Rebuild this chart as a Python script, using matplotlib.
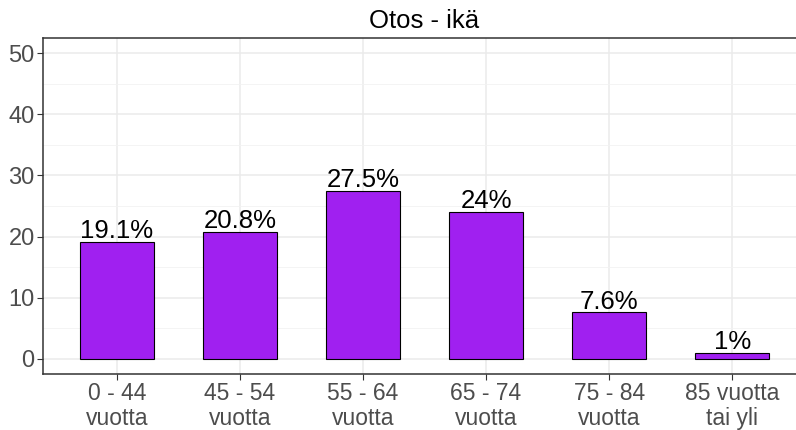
import numpy as np
import matplotlib.pyplot as plt
from matplotlib.ticker import MultipleLocator

plt.rcParams['font.family'] = ['Liberation Sans', 'DejaVu Sans']

categories = ['0 - 44\nvuotta', '45 - 54\nvuotta', '55 - 64\nvuotta',
              '65 - 74\nvuotta', '75 - 84\nvuotta', '85 vuotta\ntai yli']
values = [19.1, 20.8, 27.5, 24.0, 7.6, 1.0]
labels = ['19.1%', '20.8%', '27.5%', '24%', '7.6%', '1%']

fig = plt.figure(figsize=(7.96, 4.30), dpi=100)
ax = fig.add_axes([43/796, 56/430, 763/796, 336/430])

x = np.arange(1, len(values) + 1)
ax.bar(x, values, width=0.6, color='#A020F0', edgecolor='black', linewidth=0.8, zorder=3)

for xi, v, lab in zip(x, values, labels):
    ax.annotate(lab, (xi, v), xytext=(0, -1), textcoords='offset points',
                ha='center', va='bottom', fontsize=18.5, color='black', zorder=4)

ax.set_xlim(0.4, 6.6)
ax.set_ylim(-2.5, 52.5)
ax.set_xticks(x)
ax.set_xticklabels(categories, fontsize=16.5, color='#4d4d4d', linespacing=1.1)
ax.yaxis.set_major_locator(MultipleLocator(10))
ax.yaxis.set_minor_locator(MultipleLocator(5))
ax.tick_params(axis='y', labelsize=17, labelcolor='#4d4d4d', color='#333333', length=4, width=0.8, pad=2)
ax.tick_params(axis='x', color='#333333', length=4, width=0.8, pad=2)
ax.tick_params(axis='y', which='minor', length=0)

ax.grid(which='major', color='#ebebeb', linewidth=1.1, zorder=0)
ax.grid(which='minor', axis='y', color='#f2f2f2', linewidth=0.6, zorder=0)
for s in ax.spines.values():
    s.set_color('#333333')
    s.set_linewidth(1.1)

ax.set_title('Otos - ikä', fontsize=18.5, color='black', pad=7)

fig.savefig('out.png', dpi=100)
